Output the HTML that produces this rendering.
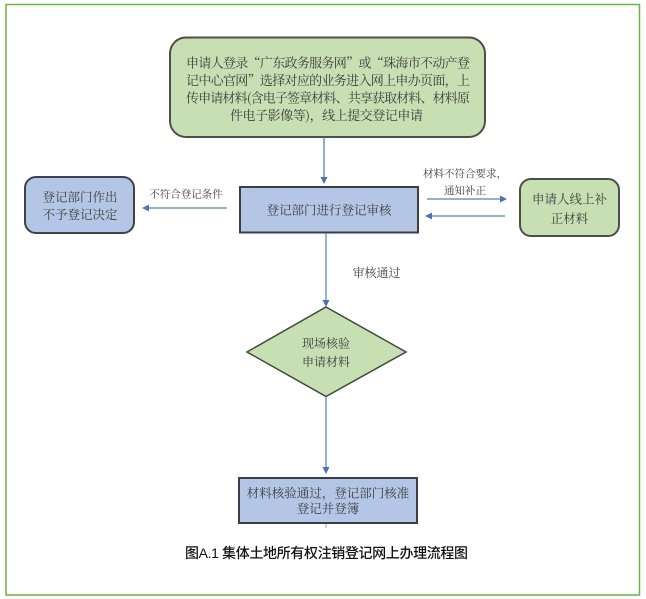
<!DOCTYPE html>
<html>
<head>
<meta charset="utf-8">
<style>
  html, body { margin: 0; padding: 0; background: #ffffff; }
  body { width: 646px; height: 599px; overflow: hidden; }
  svg { display: block; }
  .t { font-family: "Liberation Serif", "Noto Serif CJK SC", serif; fill: #3c3c3c; }
  .tc { font-family: "Noto Serif CJK SC", "Noto Sans CJK SC", serif; fill: #3c3c3c; }
  .cap { font-family: "Liberation Sans", "Noto Sans CJK SC", sans-serif; fill: #111; font-weight: 500; }
</style>
</head>
<body>
<svg width="646" height="599" viewBox="0 0 646 599" xmlns="http://www.w3.org/2000/svg">
  <!-- outer frame -->
  <rect x="6" y="4.5" width="633.5" height="590.5" fill="#ffffff" stroke="#72b144" stroke-width="1.5"/>

  <!-- top green rounded box -->
  <rect x="170" y="37.5" width="315" height="99.5" rx="16" ry="16" fill="#c7dfb2" stroke="#4a4f4a" stroke-width="2"/>
  <text class="tc" font-size="13" x="186" y="67.5" textLength="284" lengthAdjust="spacing">申请人登录“广东政务服务网”或“珠海市不动产登</text>
  <text class="tc" font-size="13" x="186" y="85" textLength="284" lengthAdjust="spacing">记中心官网”选择对应的业务进入网上申办页面，上</text>
  <text class="tc" font-size="13" x="186" y="102.5" textLength="284" lengthAdjust="spacing">传申请材料(含电子签章材料、共享获取材料、材料原</text>
  <text class="tc" font-size="13" x="230" y="120" textLength="193" lengthAdjust="spacing">件电子影像等)，线上提交登记申请</text>

  <!-- arrow top box -> center -->
  <line x1="324" y1="137" x2="324" y2="180" stroke="#5a7db5" stroke-width="1.3"/>
  <polygon points="320.5,177 327.5,177 324,184" fill="#4e72ae"/>

  <!-- center review box -->
  <rect x="240" y="187" width="178" height="45.5" fill="#b4c6e6" stroke="#3b3f45" stroke-width="2"/>
  <text class="t" font-size="12.5" x="329" y="214.5" text-anchor="middle">登记部门进行登记审核</text>

  <!-- left box -->
  <rect x="25" y="177" width="109" height="56" rx="11" ry="11" fill="#b4c6e6" stroke="#3f4349" stroke-width="2"/>
  <text class="t" font-size="12.5" x="80" y="201.5" text-anchor="middle">登记部门作出</text>
  <text class="t" font-size="12.5" x="80" y="219" text-anchor="middle">不予登记决定</text>

  <!-- left arrow -->
  <line x1="227" y1="208" x2="146" y2="208" stroke="#5a7db5" stroke-width="1.2"/>
  <polygon points="142,208 149,204.5 149,211.5" fill="#4e72ae"/>
  <text class="t" font-size="10.5" x="186" y="197.5" text-anchor="middle">不符合登记条件</text>

  <!-- right box -->
  <rect x="520" y="179" width="99" height="57" rx="11" ry="11" fill="#c7dfb2" stroke="#4a4f4a" stroke-width="2"/>
  <text class="t" font-size="12.5" x="569.5" y="203.5" text-anchor="middle">申请人线上补</text>
  <text class="t" font-size="12.5" x="569.5" y="223" text-anchor="middle">正材料</text>

  <!-- right arrows -->
  <line x1="427" y1="199" x2="503" y2="199" stroke="#5a7db5" stroke-width="1.2"/>
  <polygon points="507,199 500,195.5 500,202.5" fill="#4e72ae"/>
  <line x1="505" y1="216" x2="429" y2="216" stroke="#5a7db5" stroke-width="1.2"/>
  <polygon points="425,216 432,212.5 432,219.5" fill="#4e72ae"/>
  <text class="tc" font-size="10.5" x="465" y="177" text-anchor="middle">材料不符合要求，</text>
  <text class="t" font-size="10.5" x="465" y="194" text-anchor="middle">通知补正</text>

  <!-- center -> diamond -->
  <line x1="326" y1="233" x2="326" y2="303" stroke="#5a7db5" stroke-width="1.2"/>
  <polygon points="322.5,300 329.5,300 326,307" fill="#4e72ae"/>
  <text class="t" font-size="12" x="376.5" y="277" text-anchor="middle">审核通过</text>

  <!-- diamond -->
  <polygon points="326,307 406,352 326,396.5 247,352" fill="#c7dfb2" stroke="#3f4a3f" stroke-width="1.5"/>
  <text class="t" font-size="12" x="326" y="347.5" text-anchor="middle">现场核验</text>
  <text class="t" font-size="12" x="326" y="366" text-anchor="middle">申请材料</text>

  <!-- diamond -> bottom box -->
  <line x1="326" y1="397" x2="326" y2="470" stroke="#5a7db5" stroke-width="1.2"/>
  <polygon points="322.5,467 329.5,467 326,474" fill="#4e72ae"/>

  <!-- bottom box -->
  <rect x="239" y="478" width="178" height="45" fill="#b4c6e6" stroke="#3b3f45" stroke-width="2"/>
  <text class="tc" font-size="12.5" x="328" y="497.5" text-anchor="middle">材料核验通过，登记部门核准</text>
  <text class="t" font-size="12.5" x="328" y="513" text-anchor="middle">登记并登簿</text>
  <line x1="326" y1="524" x2="326" y2="528" stroke="#9aa8c0" stroke-width="1"/>

  <!-- caption -->
  <text class="cap" font-size="14" x="185" y="558" textLength="283" lengthAdjust="spacing">图A.1 集体土地所有权注销登记网上办理流程图</text>
</svg>
</body>
</html>
